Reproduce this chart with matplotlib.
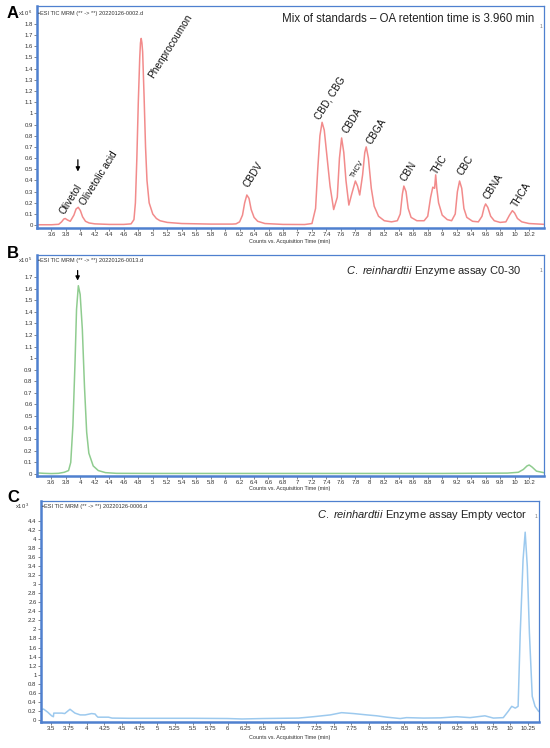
import matplotlib
matplotlib.use("Agg")
import matplotlib.pyplot as plt
import numpy as np
from matplotlib.ticker import FormatStrFormatter

plt.rcParams['font.family'] = ['Liberation Sans', 'DejaVu Sans']
plt.rcParams['mathtext.fontset'] = 'custom'
plt.rcParams['mathtext.rm'] = 'Liberation Sans'
plt.rcParams['mathtext.it'] = 'Liberation Sans:italic'

# ---- panel A: mix of standards (counts x10^6) ----
a_time = [3.40, 3.60, 3.70, 3.74, 3.77, 3.79, 3.82, 3.86, 3.91, 3.94,
          3.97, 4.00, 4.03, 4.07, 4.12, 4.20, 4.40, 4.60, 4.70, 4.74,
          4.76, 4.78, 4.80, 4.82, 4.83, 4.84, 4.85, 4.86, 4.88, 4.90,
          4.92, 4.95, 5.00, 5.05, 5.10, 5.20, 5.40, 5.80, 6.10, 6.15,
          6.20, 6.24, 6.27, 6.30, 6.33, 6.36, 6.40, 6.45, 6.55, 6.80,
          7.10, 7.20, 7.25, 7.28, 7.31, 7.34, 7.37, 7.41, 7.45, 7.50,
          7.55, 7.58, 7.61, 7.64, 7.67, 7.71, 7.75, 7.80, 7.83, 7.86,
          7.90, 7.93, 7.95, 7.98, 8.02, 8.06, 8.12, 8.20, 8.30, 8.38,
          8.42, 8.45, 8.47, 8.50, 8.53, 8.57, 8.65, 8.75, 8.80, 8.84,
          8.87, 8.895, 8.91, 8.925, 8.95, 9.00, 9.07, 9.13, 9.18, 9.21,
          9.24, 9.27, 9.30, 9.34, 9.42, 9.50, 9.55, 9.58, 9.60, 9.63,
          9.67, 9.72, 9.80, 9.88, 9.93, 9.97, 10.00, 10.04, 10.10, 10.20,
          10.40]
a_counts = [0.004, 0.004, 0.008, 0.03, 0.055, 0.06, 0.047, 0.035, 0.09, 0.145,
            0.16, 0.13, 0.075, 0.035, 0.02, 0.012, 0.007, 0.007, 0.012, 0.05,
            0.2, 0.6, 1.1, 1.5, 1.63, 1.67, 1.63, 1.55, 1.15, 0.7,
            0.4, 0.2, 0.1, 0.06, 0.04, 0.025, 0.015, 0.01, 0.01, 0.012,
            0.03, 0.09, 0.2, 0.27, 0.24, 0.14, 0.07, 0.035, 0.015, 0.007,
            0.006, 0.015, 0.15, 0.5, 0.8, 0.92, 0.85, 0.6, 0.35, 0.14,
            0.25, 0.6, 0.78, 0.65, 0.4, 0.18, 0.28, 0.395, 0.35, 0.27,
            0.45, 0.65, 0.70, 0.6, 0.33, 0.17, 0.08, 0.04, 0.03, 0.04,
            0.1, 0.28, 0.35, 0.3, 0.15, 0.07, 0.04, 0.04, 0.08, 0.25,
            0.34, 0.33, 0.45, 0.33, 0.2, 0.09, 0.05, 0.04, 0.1, 0.3,
            0.395, 0.33, 0.15, 0.07, 0.035, 0.03, 0.08, 0.16, 0.19, 0.16,
            0.08, 0.04, 0.025, 0.03, 0.09, 0.13, 0.11, 0.06, 0.03, 0.015,
            0.008]

a_peak_names = ['Olivetol', 'Olivetolic acid', 'Phenprocoumon', 'CBDV', 'CBD, CBG',
                'CBDA', 'THCV', 'CBGA', 'CBN', 'THC', 'CBC', 'CBNA', 'THCA']
a_label_time = [3.80, 4.09, 5.03, 6.35, 7.33, 7.72, 7.81, 8.05, 8.52, 8.95, 9.30, 9.67, 10.05]
a_label_y = [0.08, 0.16, 1.30, 0.32, 0.93, 0.81, 0.41, 0.71, 0.38, 0.44, 0.43, 0.22, 0.14]

# ---- panel B: C0-30 enzyme assay (counts x10^5) ----
b_time = [3.40, 3.50, 3.60, 3.70, 3.78, 3.84, 3.87, 3.90, 3.93, 3.95,
          3.975, 4.00, 4.03, 4.06, 4.09, 4.12, 4.18, 4.25, 4.35, 4.50,
          5.00, 6.00, 7.00, 8.00, 9.00, 9.90, 10.05, 10.12, 10.17, 10.20,
          10.24, 10.30, 10.40]
b_counts = [0.010, 0.006, 0.004, 0.006, 0.015, 0.03, 0.10, 0.42, 0.98, 1.42,
            1.625, 1.55, 1.25, 0.75, 0.36, 0.18, 0.07, 0.03, 0.012, 0.006,
            0.005, 0.005, 0.005, 0.005, 0.005, 0.008, 0.015, 0.04, 0.07, 0.078,
            0.06, 0.025, 0.012]

# ---- panel C: empty vector (counts x10^3) ----
c_time = [3.34, 3.39, 3.45, 3.505, 3.53, 3.535, 3.60, 3.65, 3.69, 3.765,
          3.835, 3.91, 3.98, 4.07, 4.12, 4.14, 4.16, 4.31, 4.36, 4.60,
          5.00, 5.50, 6.00, 6.20, 6.50, 7.00, 7.21, 7.45, 7.61, 7.78,
          7.97, 8.11, 8.25, 8.44, 8.53, 8.77, 9.01, 9.24, 9.43, 9.64,
          9.76, 9.90, 9.97, 10.02, 10.07, 10.11, 10.14, 10.18, 10.21, 10.24,
          10.27, 10.31, 10.35, 10.40]
c_counts = [0.22, 0.24, 0.17, 0.09, 0.07, 0.15, 0.15, 0.15, 0.14, 0.235,
            0.15, 0.11, 0.11, 0.14, 0.13, 0.09, 0.06, 0.06, 0.04, 0.035,
            0.035, 0.035, 0.03, 0.02, 0.03, 0.04, 0.07, 0.11, 0.16, 0.14,
            0.11, 0.09, 0.06, 0.03, 0.05, 0.04, 0.045, 0.07, 0.05, 0.09,
            0.04, 0.05, 0.19, 0.30, 0.26, 0.30, 1.92, 3.54, 4.15, 3.39,
            1.92, 0.52, 0.30, 0.19]

W, H = 550, 748
FRAME = '#4f80cf'


def px(x, y):
    return x / W, 1 - y / H


def make_axes(left, top, right, bottom):
    ax = fig.add_axes([left / W, 1 - bottom / H, (right - left) / W, (bottom - top) / H])
    for s in ['top', 'right']:
        ax.spines[s].set_color(FRAME)
        ax.spines[s].set_linewidth(0.9)
    for s in ['left', 'bottom']:
        ax.spines[s].set_color(FRAME)
        ax.spines[s].set_linewidth(1.8)
    ax.tick_params(axis='both', labelsize=4.3, length=2, width=0.5, color='#555555',
                   labelcolor='#333333', pad=1)
    ax.xaxis.set_major_formatter(FormatStrFormatter('%g'))
    ax.yaxis.set_major_formatter(FormatStrFormatter('%g'))
    return ax


fig = plt.figure(figsize=(W / 100, H / 100), dpi=100)

# A
axA = make_axes(37, 6, 543.5, 228)
axA.plot(a_time, a_counts, color='#f28b8b', lw=1.1)
axA.set_xlim(3.4, 10.4)
axA.set_ylim(-0.025, 1.96)
axA.set_xticks(np.arange(3.6, 10.21, 0.2))
axA.set_yticks(np.arange(0, 1.81, 0.1))
for name, t, v in zip(a_peak_names, a_label_time, a_label_y):
    fs = 5 if name == 'THCV' else 7.2
    axA.text(t, v, name, rotation=58, rotation_mode='anchor', ha='left', va='bottom',
             fontsize=fs, color='#111111')
axA.annotate('', xy=(3.965, 0.455), xytext=(3.965, 0.61),
             arrowprops=dict(arrowstyle='-|>', color='black', lw=0.9, mutation_scale=6))
axA.text(0.981, 0.968, 'Mix of standards \u2013 OA retention time is 3.960 min',
         transform=axA.transAxes, ha='right', va='top', fontsize=8.3, color='#222222')

# B
axB = make_axes(36.7, 255, 543.7, 476)
axB.plot(b_time, b_counts, color='#8fcc8f', lw=1.1)
axB.set_xlim(3.4, 10.4)
axB.set_ylim(-0.017, 1.89)
axB.set_xticks(np.arange(3.6, 10.21, 0.2))
axB.set_yticks(np.arange(0, 1.71, 0.1))
axB.annotate('', xy=(3.965, 1.645), xytext=(3.965, 1.78),
             arrowprops=dict(arrowstyle='-|>', color='black', lw=0.9, mutation_scale=6))
axB.text(0.955, 0.958, r'$\it{C.\ reinhardtii}$' + ' Enzyme assay C0-30',
         transform=axB.transAxes, ha='right', va='top', fontsize=8.0, color='#222222')

# C
axC = make_axes(40.7, 501, 539.3, 721.7)
axC.plot(c_time, c_counts, color='#9cc9ee', lw=1.1)
axC.set_xlim(3.35, 10.41)
axC.set_ylim(-0.04, 4.84)
axC.set_xticks(np.arange(3.5, 10.26, 0.25))
axC.set_yticks(np.arange(0, 4.41, 0.2))
axC.text(0.975, 0.97, r'$\it{C.\ reinhardtii}$' + ' Enzyme assay Empty vector',
         transform=axC.transAxes, ha='right', va='top', fontsize=8.0, color='#222222')

headers = ['0002', '0013', '0006']
header_y = [13, 260.7, 506.7]
header_x = [38, 38, 42]
powers = ['6', '5', '3']
power_x = [18, 18, 15]
panel_letters = ['A', 'B', 'C']
letter_y = [13, 253, 498]
xlabel_y = [242, 488, 737]
marker_pos = [(540.5, 26), (540.7, 270.7), (536, 516.7)]

for i in range(3):
    fig.text(*px(header_x[i], header_y[i]), '\u2022ESI TIC MRM (** -> **) 20220126-%s.d' % headers[i],
             fontsize=4.1, color='#333333', ha='left', va='center')
    fig.text(*px(power_x[i], header_y[i]), r'x10$^{\ %s}$' % powers[i],
             fontsize=4.2, color='#333333', ha='left', va='center')
    fig.text(*px(7, letter_y[i]), panel_letters[i], fontsize=12, fontweight='bold',
             ha='left', va='center')
    fig.text(*px(290, xlabel_y[i]), 'Counts vs. Acquisition Time (min)', fontsize=4.0,
             color='#333333', ha='center', va='center')
    fig.text(*px(*marker_pos[i]), '1', fontsize=3.5, color='#777777', ha='center', va='center')

fig.savefig('out.png', dpi=100)
